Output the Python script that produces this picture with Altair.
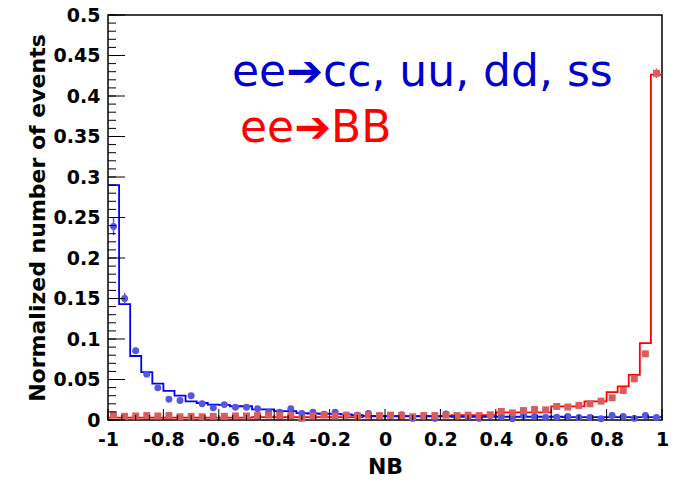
import altair as alt
import pandas as pd

# ---------------- data ----------------
n_bins = 50
bin_w = 0.04

blue_hist = [0.290, 0.143, 0.079, 0.059, 0.045, 0.036, 0.030, 0.023, 0.021, 0.019,
             0.0187, 0.017, 0.017, 0.013, 0.013, 0.011, 0.011, 0.0085, 0.008, 0.0077,
             0.0075, 0.007, 0.006, 0.005, 0.0045, 0.0045, 0.0045, 0.0045, 0.0045, 0.0045,
             0.0045, 0.004, 0.004, 0.004, 0.004, 0.004, 0.004, 0.004, 0.004, 0.004,
             0.004, 0.0035, 0.0035, 0.0035, 0.0035, 0.0035, 0.0035, 0.0035, 0.0035, 0.0035]

blue_pts = [0.239, 0.150, 0.0854, 0.0566, 0.0397, 0.0257, 0.0241, 0.0299, 0.020, 0.015,
            0.019, 0.0158, 0.0158, 0.0138, 0.0097, 0.0097, 0.0138, 0.0082, 0.0097, 0.007,
            0.0097, 0.0058, 0.0058, 0.008, 0.0045, 0.0055, 0.0065, 0.002, 0.004, 0.002,
            0.0075, 0.0045, 0.004, 0.002, 0.0055, 0.004, 0.0015, 0.0056, 0.0043, 0.003,
            0.0035, 0.0043, 0.003, 0.003, 0.0015, 0.0056, 0.0043, 0.002, 0.0056, 0.003]

blue_err = [0.011, 0.007, 0.004, 0.003, 0.0025, 0.002, 0.002, 0.002, 0.0015, 0.0015,
            0.0015, 0.0012, 0.0012, 0.0012, 0.001, 0.001, 0.001, 0.001, 0.001, 0.001,
            0.001, 0.001, 0.001, 0.001, 0.001, 0.001, 0.001, 0.001, 0.001, 0.001,
            0.001, 0.001, 0.001, 0.001, 0.001, 0.001, 0.001, 0.001, 0.001, 0.001,
            0.001, 0.001, 0.001, 0.001, 0.001, 0.001, 0.001, 0.001, 0.001, 0.001]

red_hist = [0.003, 0.003, 0.003, 0.003, 0.003, 0.003, 0.003, 0.003, 0.003, 0.003,
            0.003, 0.003, 0.003, 0.0035, 0.0035, 0.0035, 0.0035, 0.0035, 0.0035, 0.0035,
            0.0035, 0.0035, 0.0035, 0.005, 0.005, 0.005, 0.005, 0.005, 0.005, 0.005,
            0.005, 0.006, 0.006, 0.006, 0.006, 0.0095, 0.0095, 0.0095, 0.0095, 0.0095,
            0.0167, 0.0167, 0.0167, 0.023, 0.023, 0.0343, 0.0414, 0.0558, 0.095, 0.4265]

red_pts = [0.0065, 0.0045, 0.005, 0.0055, 0.005, 0.0055, 0.004, 0.0045, 0.004, 0.0045,
           0.0045, 0.005, 0.005, 0.0055, 0.006, 0.0055, 0.0055, 0.002, 0.005, 0.006,
           0.005, 0.006, 0.005, 0.006, 0.0055, 0.006, 0.0055, 0.004, 0.0055, 0.0055,
           0.006, 0.0055, 0.006, 0.0055, 0.0065, 0.0105, 0.0088, 0.0117, 0.013, 0.0125,
           0.0167, 0.016, 0.018, 0.020, 0.0233, 0.0274, 0.0364, 0.0508, 0.0817, 0.428]

red_err = [0.001] * 45 + [0.0012, 0.0015, 0.002, 0.003, 0.006]

y_major = [0, 0.05, 0.1, 0.15, 0.2, 0.25, 0.3, 0.35, 0.4, 0.45, 0.5]
x_major = [-1, -0.8, -0.6, -0.4, -0.2, 0, 0.2, 0.4, 0.6, 0.8, 1]
y_minor = [round(i * 0.01, 3) for i in range(51)]
x_minor = [round(-1 + i * 0.05, 3) for i in range(41)]

label_blue = "ee➔cc, uu, dd, ss"
label_red = "ee➔BB"

# ---------------- tables ----------------
edges = [round(-1 + bin_w * i, 4) for i in range(n_bins)]
centers = [round(e + bin_w / 2, 4) for e in edges]

W, H = 554, 405
FONT = "DejaVu Sans"

xs = alt.Scale(domain=[-1, 1], nice=False, zero=False)
ys = alt.Scale(domain=[0, 0.5], nice=False, zero=False)

X_AX = alt.Axis(
    values=x_major, title="NB", grid=False, ticks=False, domain=False,
    labelExpr="datum.value == 0 ? '0' : toString(round(datum.value * 10) / 10)",
    labelFont=FONT, labelFontWeight="bold", labelFontSize=19, labelColor="black",
    labelPadding=10, titleFont=FONT, titleFontWeight="bold", titleFontSize=22,
    titleColor="black", titlePadding=7, labelFlush=False)
Y_AX = alt.Axis(
    values=y_major, format="~g", title="Normalized number of events",
    grid=False, ticks=False, domain=False,
    labelFont=FONT, labelFontWeight="bold", labelFontSize=19, labelColor="black",
    labelPadding=8, titleFont=FONT, titleFontWeight="bold", titleFontSize=22,
    titleColor="black", titlePadding=4, labelFlush=False)


def X(f):
    return alt.X(f, scale=xs, axis=X_AX)


def Y(f):
    return alt.Y(f, scale=ys, axis=Y_AX)


def series_layers(hist_vals, pt_vals, err_vals, line_color, pt_color, shape):
    hdf = pd.DataFrame({"x": edges + [1.0], "y": hist_vals + [hist_vals[-1]]})
    pdf = pd.DataFrame({"c": centers, "v": pt_vals, "e": err_vals})
    hist = alt.Chart(hdf).mark_line(interpolate="step-after", strokeWidth=1.8,
                                    color=line_color).encode(x=X("x:Q"), y=Y("y:Q"))
    pb = alt.Chart(pdf).transform_calculate(
        lo="datum.v - datum.e", hi="datum.v + datum.e",
        xl="datum.c - 0.011", xr="datum.c + 0.011")
    vbar = pb.mark_rule(strokeWidth=1.5, color=pt_color).encode(
        x=X("c:Q"), y=Y("lo:Q"), y2="hi:Q")
    hbar = pb.mark_rule(strokeWidth=2, color=pt_color).encode(
        x=X("xl:Q"), x2="xr:Q", y=Y("v:Q"))
    pts = pb.mark_point(filled=True, size=48, opacity=1, color=pt_color,
                        shape=shape).encode(x=X("c:Q"), y=Y("v:Q"))
    return hist, vbar, hbar, pts


bh, bv, bhb, bp = series_layers(blue_hist, blue_pts, blue_err, "#0000ff", "#5656e2", "circle")
rh, rv, rhb, rp = series_layers(red_hist, red_pts, red_err, "#ff0000", "#da5c5c", "square")

ytick_major = alt.Chart(pd.DataFrame({"v": y_major})).mark_rule(color="black", strokeWidth=1).encode(
    y=Y("v:Q"), x=alt.value(0), x2=alt.value(17))
ytick_minor = alt.Chart(pd.DataFrame({"v": y_minor})).mark_rule(color="black", strokeWidth=1).encode(
    y=Y("v:Q"), x=alt.value(0), x2=alt.value(8))
xtick_major = alt.Chart(pd.DataFrame({"v": x_major})).mark_rule(color="black", strokeWidth=1).encode(
    x=X("v:Q"), y=alt.value(H), y2=alt.value(H - 11))
xtick_minor = alt.Chart(pd.DataFrame({"v": x_minor})).mark_rule(color="black", strokeWidth=1).encode(
    x=X("v:Q"), y=alt.value(H), y2=alt.value(H - 5))

txt_blue = alt.Chart(pd.DataFrame({"t": [label_blue]})).mark_text(
    font=FONT, fontSize=44, color="#0000cc", align="left", baseline="alphabetic").encode(
    text="t:N", x=alt.value(124), y=alt.value(71))
txt_red = alt.Chart(pd.DataFrame({"t": [label_red]})).mark_text(
    font=FONT, fontSize=44, color="#ff0000", align="left", baseline="alphabetic").encode(
    text="t:N", x=alt.value(132), y=alt.value(127))

chart = alt.layer(
    rh, bh, bv, bhb, bp, rv, rhb, rp,
    ytick_minor, ytick_major, xtick_minor, xtick_major,
    txt_blue, txt_red,
).properties(
    width=W, height=H,
    autosize=alt.AutoSizeParams(type="none"),
    padding={"left": 108, "top": 15, "right": 13, "bottom": 71},
    background="white",
).configure_view(stroke="black", strokeWidth=1.5)

chart.save("out.html", embed_options={"renderer": "svg", "actions": False})
